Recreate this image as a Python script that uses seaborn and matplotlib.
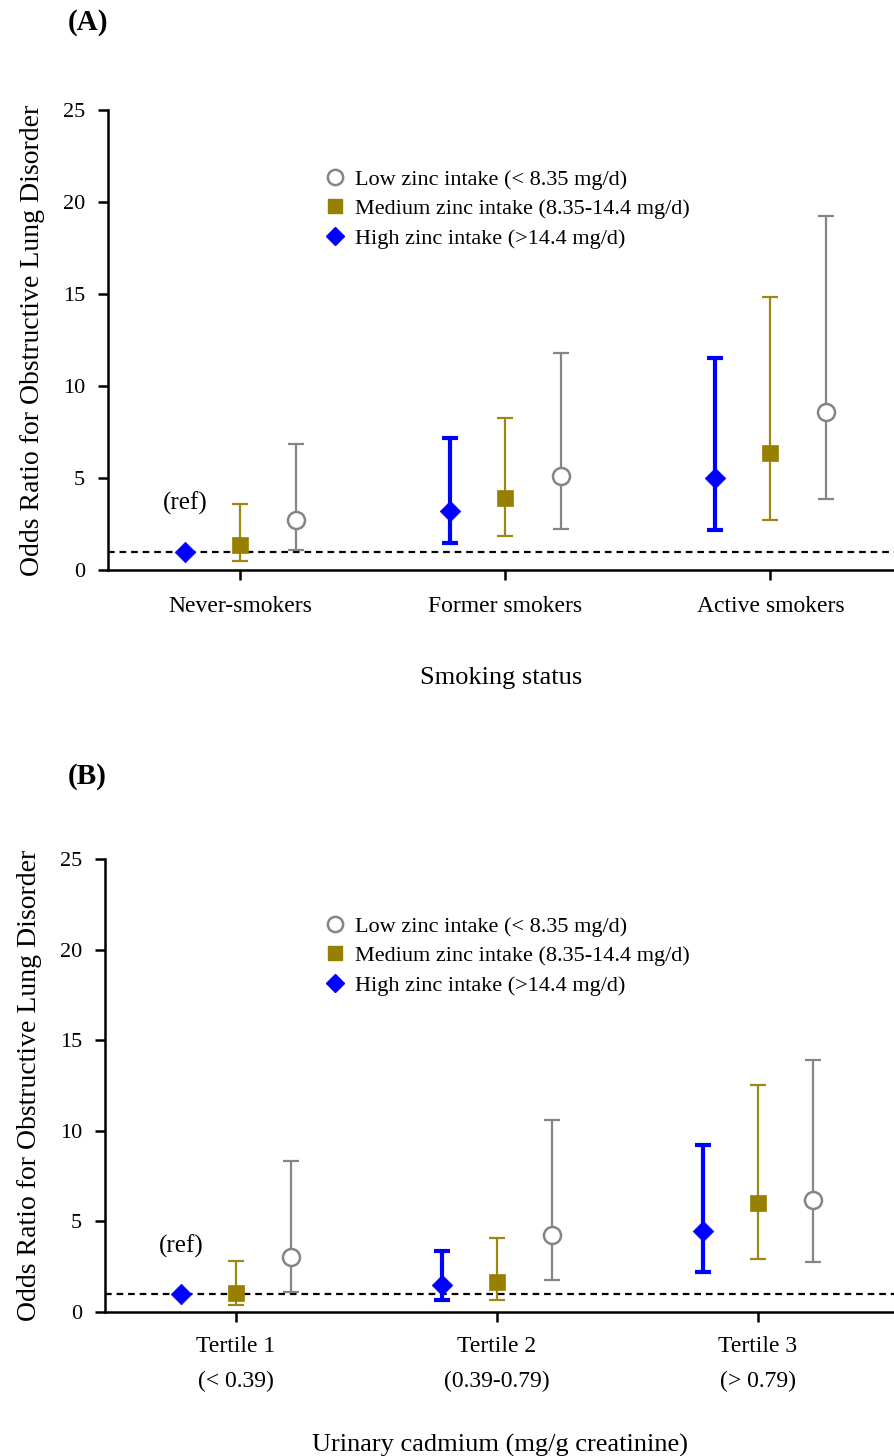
import numpy as np
import pandas as pd
import matplotlib
matplotlib.use("Agg")
import matplotlib.pyplot as plt
from matplotlib.lines import Line2D
import seaborn as sns

# ---------------- data ----------------
smoking_categories = ["Never-smokers", "Former smokers", "Active smokers"]
cadmium_categories = ["Tertile 1\n(< 0.39)", "Tertile 2\n(0.39-0.79)", "Tertile 3\n(> 0.79)"]
zinc_groups = ["Low zinc intake (< 8.35 mg/d)",
               "Medium zinc intake (8.35-14.4 mg/d)",
               "High zinc intake (>14.4 mg/d)"]

# Panel A (smoking status)
a_low_or = [2.72, 5.13, 8.60]
a_low_lo = [1.09, 2.23, 3.86]
a_low_hi = [6.85, 11.78, 19.26]
a_med_or = [1.36, 3.90, 6.34]
a_med_lo = [0.51, 1.87, 2.72]
a_med_hi = [3.57, 8.24, 14.82]
a_high_or = [1.00, 3.20, 4.98]
a_high_lo = [np.nan, 1.45, 2.17]
a_high_hi = [np.nan, 7.19, 11.54]

# Panel B (urinary cadmium)
b_low_or = [3.05, 4.24, 6.17]
b_low_lo = [1.12, 1.74, 2.74]
b_low_hi = [8.33, 10.57, 13.90]
b_med_or = [1.05, 1.63, 6.04]
b_med_lo = [0.39, 0.66, 2.92]
b_med_hi = [2.81, 4.09, 12.54]
b_high_or = [1.00, 1.49, 4.48]
b_high_lo = [np.nan, 0.66, 2.18]
b_high_hi = [np.nan, 3.36, 9.20]

ref_value = 1.0
y_ticks = [0, 5, 10, 15, 20, 25]

# ---------------- style ----------------
sns.set_theme(style="white")
plt.rcParams["font.family"] = ["Liberation Serif", "DejaVu Serif"]
plt.rcParams["text.color"] = "black"
plt.rcParams["axes.labelcolor"] = "black"
plt.rcParams["xtick.color"] = "black"
plt.rcParams["ytick.color"] = "black"

C_LOW = "#858585"
C_MED = "#978000"
C_MED_BAR = "#9C8714"
C_HIGH = "#0000FF"

offsets = {"High": -0.21, "Medium": 0.0, "Low": 0.21}

fig = plt.figure(figsize=(8.95, 14.56), dpi=100)
axA = fig.add_axes([108 / 895, 1 - 570 / 1456, 1 - 108 / 895, 460 / 1456])
axB = fig.add_axes([105 / 895, 1 - 1312 / 1456, 1 - 105 / 895, 453 / 1456])


def full_df(cats, low_set, med_set, high_set):
    rows = []
    for grp, (orv, lo, hi) in zip(["Low", "Medium", "High"], [low_set, med_set, high_set]):
        for i, c in enumerate(cats):
            rows.append(dict(cat=c, idx=i, group=grp, OR=orv[i], lo=lo[i], hi=hi[i]))
    df = pd.DataFrame(rows)
    df["x"] = df["idx"] + df["group"].map(offsets)
    return df


def draw(ax, df, cats, xlabel, xlim, legend_anchor, xpad, labelpad):
    ax.set_xlim(*xlim)
    ax.set_ylim(0, 25)
    ax.axhline(ref_value, color="black", lw=1.6, ls=(0, (3, 2.2)), zorder=1)

    styles = {
        "High": dict(color=C_HIGH, lw=3.0, capsize=6.0, capthick=3.0),
        "Medium": dict(color=C_MED_BAR, lw=1.6, capsize=5.5, capthick=1.6),
        "Low": dict(color=C_LOW, lw=1.6, capsize=5.5, capthick=1.6),
    }
    for grp, st in styles.items():
        sub = df[(df["group"] == grp) & df["lo"].notna()]
        ax.errorbar(sub["x"], sub["OR"],
                    yerr=[sub["OR"] - sub["lo"], sub["hi"] - sub["OR"]],
                    fmt="none", ecolor=st["color"], elinewidth=st["lw"],
                    capsize=st["capsize"], capthick=st["capthick"], zorder=2)

    sns.scatterplot(data=df[df["group"] == "Low"], x="x", y="OR", ax=ax,
                    marker="o", s=150, color="white", edgecolor=C_LOW,
                    linewidth=1.8, zorder=4, legend=False)
    sns.scatterplot(data=df[df["group"] == "Medium"], x="x", y="OR", ax=ax,
                    marker="s", s=135, color=C_MED, edgecolor=C_MED,
                    linewidth=0.5, zorder=4, legend=False)
    sns.scatterplot(data=df[df["group"] == "High"], x="x", y="OR", ax=ax,
                    marker="D", s=110, color=C_HIGH, edgecolor=C_HIGH,
                    linewidth=0.5, zorder=4, legend=False)

    ax.text(offsets["High"], 3.0, "(ref)", ha="center", va="bottom", fontsize=18)

    ax.set_xticks(range(len(cats)))
    ax.set_xticklabels(cats, fontsize=17, linespacing=1.85)
    ax.set_yticks(y_ticks)
    ax.set_yticklabels([str(t) for t in y_ticks], fontsize=16)
    ax.tick_params(axis="both", direction="out", length=7.5, width=1.8,
                   color="black", labelcolor="black", pad=9, bottom=True, left=True)
    ax.tick_params(axis="x", pad=xpad)
    for side in ["top", "right"]:
        ax.spines[side].set_visible(False)
    for side in ["left", "bottom"]:
        ax.spines[side].set_visible(True)
        ax.spines[side].set_color("black")
        ax.spines[side].set_linewidth(1.8)
    ax.set_xlabel(xlabel, fontsize=19, labelpad=labelpad, color="black")
    ax.set_ylabel("Odds Ratio for Obstructive Lung Disorder", fontsize=20,
                  labelpad=13, color="black")
    ax.grid(False)

    handles = [
        Line2D([], [], ls="none", marker="o", ms=11, mfc="white", mec=C_LOW, mew=1.8),
        Line2D([], [], ls="none", marker="s", ms=10, mfc=C_MED, mec=C_MED),
        Line2D([], [], ls="none", marker="D", ms=9.5, mfc=C_HIGH, mec=C_HIGH),
    ]
    leg = ax.legend(handles, zinc_groups, loc="upper left", bbox_to_anchor=legend_anchor,
                    bbox_transform=fig.transFigure, frameon=False, fontsize=16,
                    handlelength=1.0, handletextpad=0.4, labelspacing=0.4, borderpad=0)
    for t in leg.get_texts():
        t.set_color("black")


dfA = full_df(smoking_categories, (a_low_or, a_low_lo, a_low_hi),
              (a_med_or, a_med_lo, a_med_hi), (a_high_or, a_high_lo, a_high_hi))
dfB = full_df(cadmium_categories, (b_low_or, b_low_lo, b_low_hi),
              (b_med_or, b_med_lo, b_med_hi), (b_high_or, b_high_lo, b_high_hi))

draw(axA, dfA, smoking_categories, "Smoking status", (-0.5, 2.47),
     (313 / 895, 1 - 158 / 1456), xpad=11, labelpad=36)
draw(axB, dfB, cadmium_categories, "Urinary cadmium (mg/g creatinine)", (-0.502, 2.525),
     (313 / 895, 1 - 905 / 1456), xpad=10, labelpad=30)

fig.text(68 / 895, 1 - 23 / 1456, "(A)", fontsize=21, fontweight="bold",
         ha="left", va="center", color="black")
fig.text(68 / 895, 1 - 776 / 1456, "(B)", fontsize=21, fontweight="bold",
         ha="left", va="center", color="black")

fig.savefig("out.png", dpi=100)
